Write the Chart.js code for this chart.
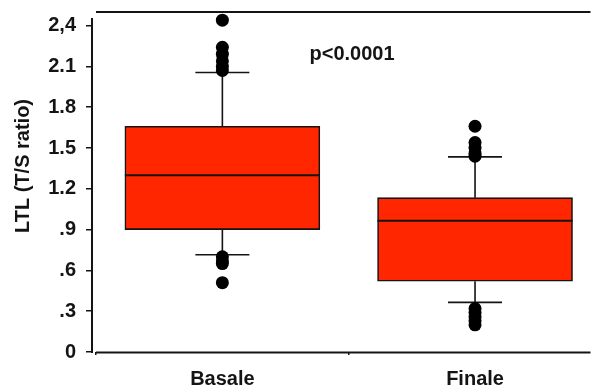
<!DOCTYPE html>
<html><head><meta charset="utf-8">
<script src="https://cdn.jsdelivr.net/npm/chart.js@4/dist/chart.umd.min.js"></script>
<style>html,body{margin:0;padding:0;background:#fff}#wrap{width:597px;height:391px;position:relative}</style>
</head><body><div id="wrap"><canvas id="c"></canvas></div>
<script>
const categories = ["Basale", "Finale"];
const q1 = [0.90, 0.52];
const q3 = [1.66, 1.135];
const medians = [1.30, 0.965];
const whiskerLow = [0.715, 0.365];
const whiskerHigh = [2.055, 1.435];
const outliersBasale = [2.44, 2.24, 2.19, 2.14, 2.10, 2.07, 0.70, 0.67, 0.65, 0.51];
const outliersFinale = [1.66, 1.54, 1.50, 1.46, 1.44, 0.32, 0.29, 0.26, 0.23, 0.20];
const yTickValues = [0, 0.3, 0.6, 0.9, 1.2, 1.5, 1.8, 2.1, 2.4];
const yTickLabels = ["0", ".3", ".6", ".9", "1.2", "1.5", "1.8", "2.1", "2,4"];
const yTitle = "LTL (T/S ratio)";
const pText = "p<0.0001";
const pTextAt = {x: 1.345, y: 2.19};

const FONT = '"Liberation Sans", Arial, sans-serif';
const INK = '#141414';
const BOX_FILL = '#FF2600';

const boxPlugin = {
  id: 'boxplot',
  beforeDatasetsDraw(chart) {
    const {ctx, scales: {x, y}} = chart;
    ctx.save();
    ctx.strokeStyle = INK;
    ctx.lineWidth = 1.6;
    categories.forEach((c, i) => {
      const cx = x.getPixelForValue(i + 1);
      const hw = 27;
      const yq1 = y.getPixelForValue(q1[i]), yq3 = y.getPixelForValue(q3[i]);
      const ylo = y.getPixelForValue(whiskerLow[i]), yhi = y.getPixelForValue(whiskerHigh[i]);
      ctx.beginPath();
      ctx.moveTo(cx, yq3); ctx.lineTo(cx, yhi);
      ctx.moveTo(cx, yq1); ctx.lineTo(cx, ylo);
      ctx.moveTo(cx - hw, yhi); ctx.lineTo(cx + hw, yhi);
      ctx.moveTo(cx - hw, ylo); ctx.lineTo(cx + hw, ylo);
      ctx.stroke();
    });
    ctx.restore();
  },
  afterDatasetsDraw(chart) {
    const {ctx, scales: {x, y}} = chart;
    const meta = chart.getDatasetMeta(0);
    ctx.save();
    ctx.strokeStyle = INK;
    ctx.lineWidth = 2;
    categories.forEach((c, i) => {
      const bar = meta.data[i];
      const half = bar.width / 2;
      const ym = y.getPixelForValue(medians[i]);
      ctx.beginPath();
      ctx.moveTo(bar.x - half, ym); ctx.lineTo(bar.x + half, ym);
      ctx.stroke();
    });
    ctx.restore();
  },
  afterDraw(chart) {
    const {ctx, chartArea: ca, scales: {x, y}} = chart;
    ctx.save();
    ctx.strokeStyle = INK;
    ctx.lineWidth = 2;
    ctx.beginPath();
    ctx.moveTo(ca.left, ca.top + 6); ctx.lineTo(ca.left, ca.bottom + 1);
    ctx.moveTo(ca.left + 4, ca.bottom + 0.5); ctx.lineTo(ca.right, ca.bottom + 0.5);
    ctx.moveTo(ca.left + 4, ca.top); ctx.lineTo(ca.right, ca.top);
    ctx.stroke();
    ctx.fillStyle = INK;
    ctx.font = 'bold 20px ' + FONT;
    ctx.textAlign = 'center';
    ctx.textBaseline = 'middle';
    ctx.translate(23, 166);
    ctx.rotate(-Math.PI / 2);
    ctx.fillText(yTitle, 0, 0);
    ctx.setTransform(1, 0, 0, 1, 0, 0);
    ctx.font = 'bold 20px ' + FONT;
    ctx.textAlign = 'left';
    ctx.fillText(pText, x.getPixelForValue(pTextAt.x), y.getPixelForValue(pTextAt.y));
    ctx.restore();
  }
};

const pointData = outliersBasale.map(v => ({x: 1, y: v}))
  .concat(outliersFinale.map(v => ({x: 2, y: v})));

new Chart(document.getElementById('c'), {
  type: 'bar',
  data: {
    datasets: [
      {
        type: 'bar',
        data: categories.map((c, i) => ({x: i + 1, y: [q1[i], q3[i]]})),
        backgroundColor: BOX_FILL,
        borderColor: INK,
        borderWidth: 1.6,
        borderSkipped: false,
        barThickness: 195
      },
      {
        type: 'scatter',
        data: pointData,
        pointRadius: 6.5,
        pointBackgroundColor: '#000',
        pointBorderWidth: 0,
        clip: false
      }
    ]
  },
  options: {
    responsive: true,
    maintainAspectRatio: false,
    animation: false,
    layout: {padding: {top: 12, right: 0, left: 0, bottom: 0}},
    plugins: {legend: {display: false}, tooltip: {enabled: false}},
    scales: {
      x: {
        type: 'linear',
        min: 0.484,
        max: 2.457,
        offset: false,
        afterBuildTicks: s => { s.ticks = categories.map((c, i) => ({value: i + 1})); },
        afterFit: s => { s.height = 39; s.paddingLeft = 0; s.paddingRight = 0; s.paddingTop = 0; s.paddingBottom = 0; },
        grid: {drawOnChartArea: false, drawTicks: true, tickLength: 3, color: INK, lineWidth: 1.5},
        border: {display: false},
        ticks: {
          callback: v => categories[Math.round(v) - 1],
          font: {family: FONT, size: 20, weight: 'bold'},
          color: INK,
          padding: 12,
          maxRotation: 0,
          autoSkip: false
        }
      },
      y: {
        min: 0,
        max: 2.5,
        afterBuildTicks: s => { s.ticks = yTickValues.map(v => ({value: v})); },
        afterFit: s => { s.width = 92; s.paddingTop = 0; s.paddingBottom = 0; s.paddingLeft = 0; s.paddingRight = 0; },
        grid: {drawOnChartArea: false, drawTicks: true, tickLength: 6, color: INK, lineWidth: 1.5},
        border: {display: false},
        ticks: {
          callback: (v, idx) => yTickLabels[idx],
          font: {family: FONT, size: 20, weight: 'bold'},
          color: INK,
          padding: 10,
          autoSkip: false
        }
      }
    }
  },
  plugins: [boxPlugin]
});
</script>
</body></html>
